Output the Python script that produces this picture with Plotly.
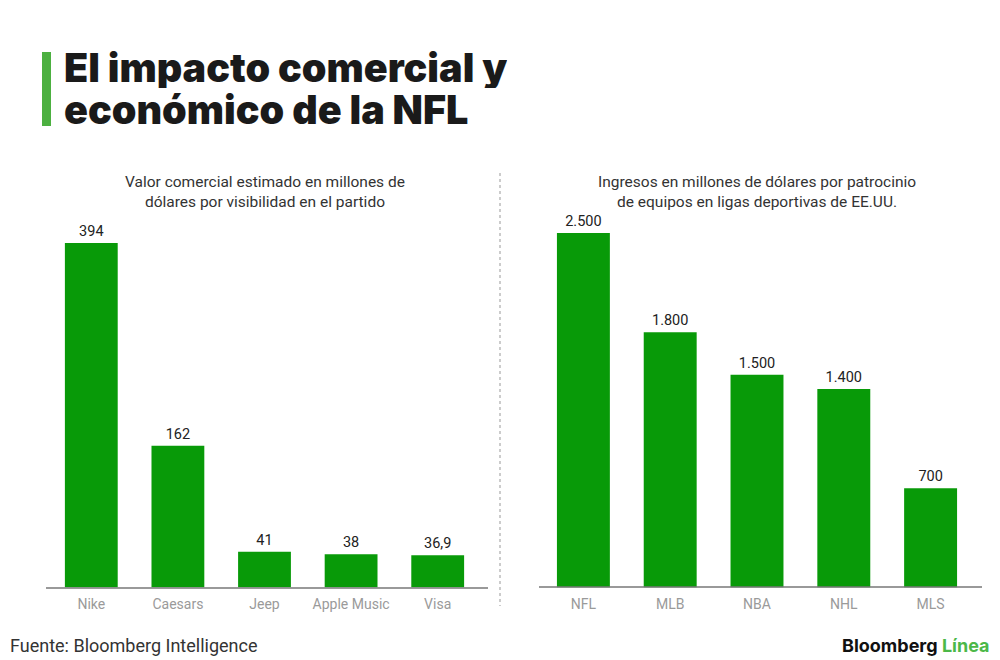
import plotly.graph_objects as go

brands = ["Nike", "Caesars", "Jeep", "Apple Music", "Visa"]
brand_values = [394, 162, 41, 38, 36.9]
brand_labels = ["394", "162", "41", "38", "36,9"]

leagues = ["NFL", "MLB", "NBA", "NHL", "MLS"]
league_values = [2500, 1800, 1500, 1400, 700]
league_labels = ["2.500", "1.800", "1.500", "1.400", "700"]

OFF = 8  # page body margin
W, H = 1000 - OFF, 660 - OFF
BAR = "#089a08"
LBL_FONT = "Roboto, Arial"

def px_x(x):
    return (x - OFF) / W

def px_y(y):
    return (H - (y - OFF)) / H

fig = go.Figure()
fig.add_trace(go.Bar(
    x=brands, y=brand_values, text=brand_labels, textposition="outside",
    cliponaxis=False, marker_color=BAR, marker_line_width=0,
    textfont=dict(size=14.5, color="#222", family=LBL_FONT),
    xaxis="x", yaxis="y", hoverinfo="skip"))
fig.add_trace(go.Bar(
    x=leagues, y=league_values, text=league_labels, textposition="outside",
    cliponaxis=False, marker_color=BAR, marker_line_width=0,
    textfont=dict(size=14.5, color="#222", family=LBL_FONT),
    xaxis="x2", yaxis="y2", hoverinfo="skip"))

base = 587.5
tickfont = dict(size=14, color="#9a9a9a", family=LBL_FONT)
fig.update_layout(
    width=W, height=H, margin=dict(l=0, r=0, t=0, b=0),
    paper_bgcolor="white", plot_bgcolor="white", showlegend=False,
    bargap=0.39,
    xaxis=dict(domain=[px_x(48), px_x(481)], showgrid=False, zeroline=False,
               showline=False, ticks="", tickfont=tickfont, ticklabelstandoff=6,
               anchor="y"),
    yaxis=dict(domain=[px_y(base), px_y(243)], range=[0, 394], visible=False,
               anchor="x"),
    xaxis2=dict(domain=[px_x(540), px_x(974)], showgrid=False, zeroline=False,
                showline=False, ticks="", tickfont=tickfont, ticklabelstandoff=6,
                anchor="y2"),
    yaxis2=dict(domain=[px_y(base), px_y(233)], range=[0, 2500], visible=False,
                anchor="x2"),
)

shapes = [
    dict(type="line", xref="paper", yref="paper", x0=px_x(46), x1=px_x(488),
         y0=px_y(588), y1=px_y(588), line=dict(color="#777", width=1.5)),
    dict(type="line", xref="paper", yref="paper", x0=px_x(539), x1=px_x(982),
         y0=px_y(587), y1=px_y(587), line=dict(color="#777", width=1.5)),
    dict(type="line", xref="paper", yref="paper", x0=px_x(500), x1=px_x(500),
         y0=px_y(173), y1=px_y(606), line=dict(color="#999", width=1, dash="dot")),
    dict(type="rect", xref="paper", yref="paper", x0=px_x(42), x1=px_x(51),
         y0=px_y(126), y1=px_y(52), fillcolor="#4cb040", line_width=0),
]
fig.update_layout(shapes=shapes)

title_font = dict(size=39.5, color="#1a1a1a", family="Inter, Roboto, Arial", weight=900)
ann = [
    dict(text="El impacto comercial y", x=px_x(62), y=px_y(45), height=41,
         valign="middle", xanchor="left", yanchor="top", align="left", font=title_font),
    dict(text="económico de la NFL", x=px_x(62), y=px_y(87), height=41,
         valign="middle", xanchor="left", yanchor="top", align="left", font=title_font),
    dict(text="Valor comercial estimado en millones de<br>dólares por visibilidad en el partido",
         x=px_x(265), y=px_y(192), xanchor="center", yanchor="middle", align="center",
         font=dict(size=15.5, color="#333", family=LBL_FONT)),
    dict(text="Ingresos en millones de dólares por patrocinio<br>de equipos en ligas deportivas de EE.UU.",
         x=px_x(757), y=px_y(192), xanchor="center", yanchor="middle", align="center",
         font=dict(size=15.5, color="#333", family=LBL_FONT)),
    dict(text="Fuente: Bloomberg Intelligence", x=px_x(8), y=px_y(645),
         xanchor="left", yanchor="middle",
         font=dict(size=18, color="#333", family=LBL_FONT)),
    dict(text="<b>Bloomberg <span style='color:#4cb848'>Línea</span></b>", x=px_x(992), y=px_y(645),
         xanchor="right", yanchor="middle",
         font=dict(size=18, color="#111", family="Inter, Roboto, Arial")),
]
for a in ann:
    a.update(xref="paper", yref="paper", showarrow=False)
fig.update_layout(annotations=ann)

fig.write_html("out.html")
